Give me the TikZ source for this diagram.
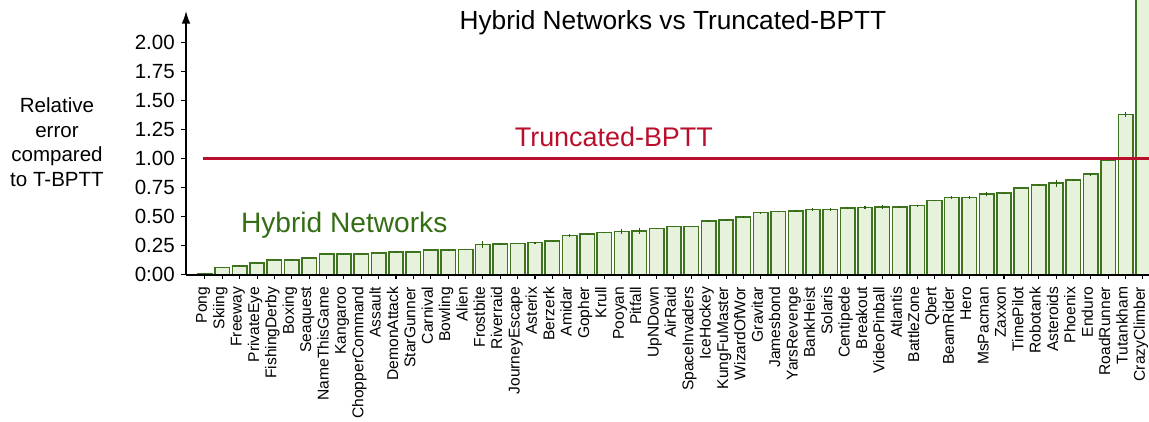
\documentclass[tikz,border=0pt]{standalone}
\usepackage{fontspec}
\setmainfont{Liberation Sans}
\usetikzlibrary{arrows.meta}

\definecolor{barfill}{RGB}{230,242,220}
\definecolor{barline}{RGB}{62,116,30}
\definecolor{errline}{RGB}{38,92,10}
\definecolor{hybgreen}{RGB}{52,110,20}
\definecolor{tbpttred}{RGB}{185,15,45}

\begin{document}
\begin{tikzpicture}[x=13.03pt, y=87.3pt,
    bar/.style={draw=barline, fill=barfill, line width=1.2pt},
    errbar/.style={draw=errline, line width=0.8pt},
    game/.style={rotate=90, anchor=base east, inner sep=0pt, font=\fontsize{11.7}{12}\selectfont},
    ticklabel/.style={anchor=east, inner sep=0pt, font=\fontsize{15.4}{16}\selectfont}]
    \useasboundingbox (-10.80,-1.2629) rectangle (55.35,2.3625);
    \clip (-10.80,-1.2629) rectangle (55.35,2.3625);

    % one bar per game, sorted by error
    \foreach \name/\val/\err [count=\i] in {
        Pong/0.014/0.004, Skiing/0.065/0.004, Freeway/0.078/0.004,
        PrivateEye/0.10/0.004, FishingDerby/0.13/0.005, Boxing/0.13/0.004,
        Seaquest/0.147/0.004, NameThisGame/0.178/0.004, Kangaroo/0.178/0.004,
        ChopperCommand/0.18/0.004, Assault/0.19/0.005, DemonAttack/0.198/0.004,
        StarGunner/0.198/0.005, Carnival/0.212/0.004, Bowling/0.212/0.004,
        Alien/0.218/0.005, Frostbite/0.262/0.03, Riverraid/0.267/0.006,
        JourneyEscape/0.27/0.005, Asterix/0.277/0.008, Berzerk/0.29/0.005,
        Amidar/0.338/0.015, Gopher/0.35/0.008, Krull/0.365/0.006,
        Pooyan/0.373/0.02, Pitfall/0.377/0.025, UpNDown/0.398/0.006,
        AirRaid/0.415/0.005, SpaceInvaders/0.415/0.005, IceHockey/0.461/0.008,
        KungFuMaster/0.472/0.008, WizardOfWor/0.498/0.005, Gravitar/0.535/0.008,
        Jamesbond/0.544/0.006, YarsRevenge/0.55/0.008, BankHeist/0.561/0.012,
        Solaris/0.561/0.01, Centipede/0.573/0.008, Breakout/0.58/0.01,
        VideoPinball/0.582/0.015, Atlantis/0.585/0.008, BattleZone/0.595/0.01,
        Qbert/0.638/0.006, BeamRider/0.665/0.01, Hero/0.665/0.012,
        MsPacman/0.694/0.02, Zaxxon/0.702/0.006, TimePilot/0.745/0.006,
        Robotank/0.771/0.008, Asteroids/0.788/0.03, Phoenix/0.814/0.008,
        Enduro/0.866/0.012, RoadRunner/0.989/0.01, Tutankham/1.378/0.025,
        CrazyClimber/2.6/0.02}{
        \draw[bar] (\i-0.415,0) rectangle (\i+0.415,\val);
        \draw[errbar] (\i,\val-\err) -- (\i,\val+\err);
        \draw[line width=0.8pt] (\i,0) -- (\i,-0.034);
        \node[game] (g\i) at (\i+0.115,-0.1) {\name};
    }

    % axes
    \draw[line width=1.1pt] (-0.09,0) -- (55.35,0);
    \draw[line width=1.1pt, -{Latex[length=9.5pt,width=6.5pt]}] (-0.09,0) -- (-0.09,2.268);
    \foreach \v/\t in {0/0:00, 0.25/0.25, 0.5/0.50, 0.75/0.75, 1/1.00, 1.25/1.25, 1.5/1.50, 1.75/1.75, 2/2.00}{
        \draw[line width=0.8pt] (-0.09,\v) -- (-0.378,\v);
        \node[ticklabel] at (-0.725,\v) {\t};
    }

    % T-BPTT reference level
    \draw[tbpttred, line width=1.9pt] (0.915,1) -- (55.35,1);

    \node[anchor=base, font=\fontsize{19.7}{20}\selectfont] (title) at (27.94,2.111) {Hybrid Networks vs Truncated-BPTT};
    \node[anchor=base, tbpttred, font=\fontsize{20.2}{21}\selectfont] (tbptt) at (24.54,1.102) {Truncated-BPTT};
    \node[anchor=base, hybgreen, font=\fontsize{21.1}{22}\selectfont] (hybrid) at (9.02,0.363) {Hybrid Networks};
    \node[anchor=base, align=center, font=\fontsize{15.4}{18.5}\selectfont] (ylabel) at (-7.52,0.7586) {Relative\\error\\compared\\to T-BPTT};
\end{tikzpicture}
\end{document}
